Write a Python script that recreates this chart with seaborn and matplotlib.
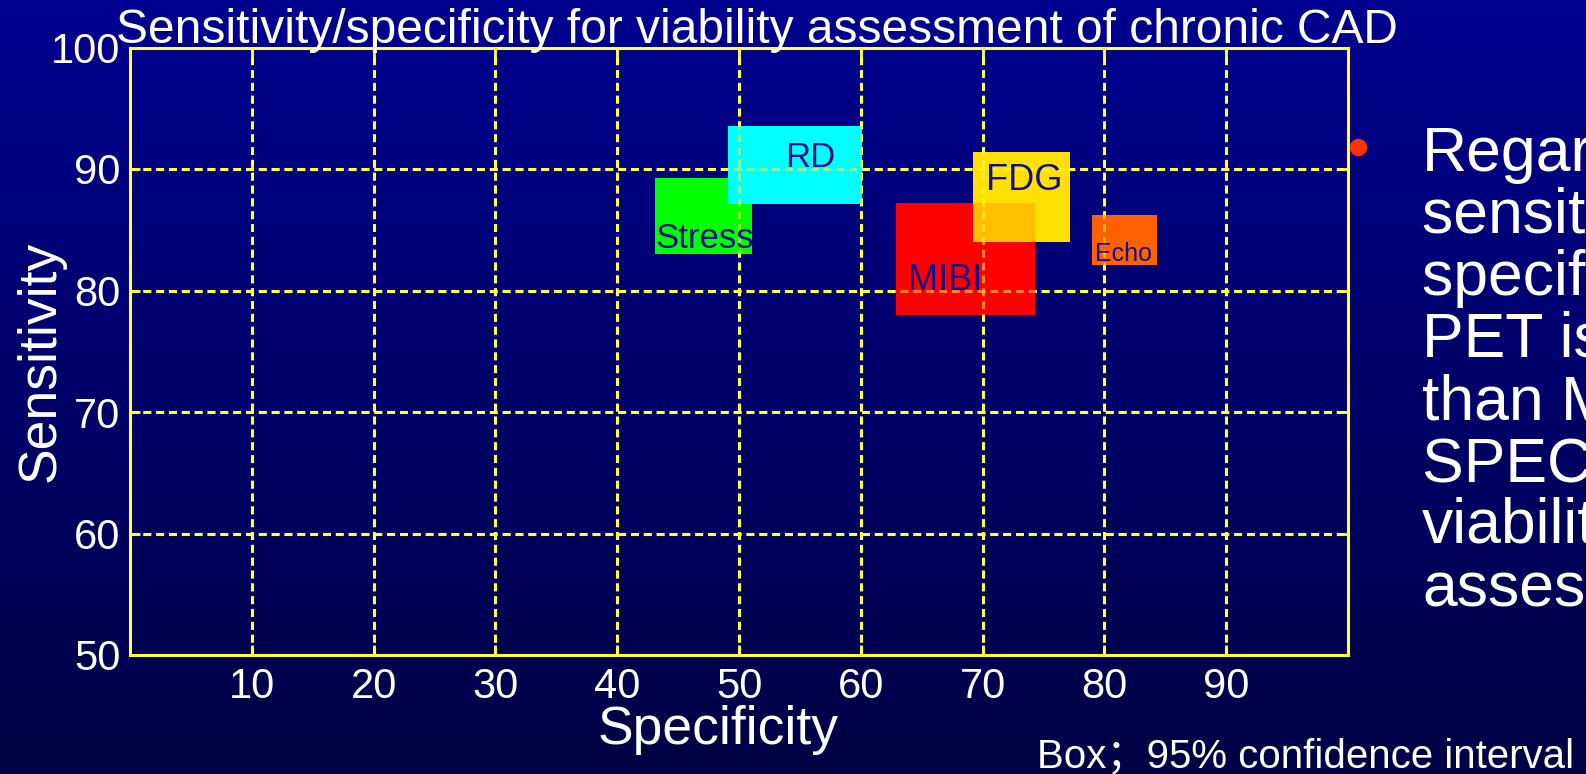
import numpy as np
import matplotlib
matplotlib.use("Agg")
import matplotlib.pyplot as plt
from matplotlib.lines import Line2D
import seaborn as sns

# ---------------- data ----------------
methods = ["Stress", "RD", "MIBI", "FDG", "Echo"]
spec_lo = [43.1, 49.1, 62.9, 69.2, 79.0]
spec_hi = [51.1, 60.1, 74.3, 77.2, 84.3]
sens_lo = [83.0, 87.1, 78.0, 84.0, 82.1]
sens_hi = [89.3, 93.5, 87.2, 91.4, 86.2]
box_colors = ["#00FF00", "#00FFFF", "#FF0000", "#FFE000", "#FF6000"]
label_x = [43.1, 53.8, 63.9, 70.3, 79.2]
label_y = [83.5, 90.2, 80.0, 88.3, 82.4]
label_size = [25, 25, 26, 26, 18]
overlap_color = "#FFC000"

xticks = [10, 20, 30, 40, 50, 60, 70, 80, 90]
yticks = [50, 60, 70, 80, 90, 100]
grid_y = [60, 70, 80, 90]

title = "Sensitivity/specificity for viability assessment of chronic CAD"
xlabel = "Specificity"
ylabel = "Sensitivity"
note = "Box\uff1b95% confidence interval"
bullet_lines = ["Regarding", "sensitivity and", "specificity, FDG", "PET is better",
                "than MIBI", "SPECT for", "viability", "assessment"]

# ---------------- style ----------------
sns.set_style("ticks")
plt.rcParams["font.family"] = ["Liberation Sans", "Noto Sans CJK SC", "DejaVu Sans"]

W, H = 1586, 774
fig = plt.figure(figsize=(W / 100, H / 100), dpi=100)

# gradient background
bg = fig.add_axes([0, 0, 1, 1], zorder=-10)
top = np.array([0, 0, 144]) / 255
bot = np.array([0, 0, 68]) / 255
t = np.linspace(0, 1, 256)[:, None]
grad = (top[None, :] * (1 - t) + bot[None, :] * t)[:, None, :]
bg.imshow(grad, aspect="auto", extent=[0, 1, 0, 1])
bg.set_axis_off()

ax = fig.add_axes([130 / W, 1 - 655 / H, (1348 - 130) / W, (655 - 47.5) / H])
ax.set_facecolor("none")
ax.set_xlim(0, 100)
ax.set_ylim(50, 100)

yellow = "#FFFF44"
dash = (0, (2.6, 1.6))
# grid under boxes
for gx in xticks:
    ax.axvline(gx, color=yellow, lw=2.2, ls=dash, zorder=1)
for gy in grid_y:
    ax.axhline(gy, color=yellow, lw=2.2, ls=dash, zorder=1)

# boxes
for i, m in enumerate(methods):
    ax.bar(spec_lo[i], sens_hi[i] - sens_lo[i], width=spec_hi[i] - spec_lo[i],
           bottom=sens_lo[i], align="edge", color=box_colors[i], lw=0, zorder=2 + i * 0.1)

# overlap MIBI / FDG
i, j = methods.index("MIBI"), methods.index("FDG")
ox0, ox1 = max(spec_lo[i], spec_lo[j]), min(spec_hi[i], spec_hi[j])
oy0, oy1 = max(sens_lo[i], sens_lo[j]), min(sens_hi[i], sens_hi[j])
ax.bar(ox0, oy1 - oy0, width=ox1 - ox0, bottom=oy0, align="edge",
       color=overlap_color, lw=0, zorder=3)

# faded grid over boxes
for gx in xticks:
    ax.axvline(gx, color=yellow, lw=2.2, ls=dash, alpha=0.5, zorder=4)
for gy in grid_y:
    ax.axhline(gy, color=yellow, lw=2.2, ls=dash, alpha=0.5, zorder=4)

# labels
for k, m in enumerate(methods):
    ax.text(label_x[k], label_y[k], m, fontsize=label_size[k], color="#10108E",
            ha="left", va="baseline", zorder=5)

ax.set_xticks(xticks)
ax.set_yticks(yticks)
ax.set_xticklabels([str(v) for v in xticks])
ax.set_yticklabels([str(v) for v in yticks])
ax.tick_params(axis="both", which="both", direction="in", length=7, width=2,
               color=yellow, labelcolor="white", labelsize=30,
               top=True, right=True)
ax.tick_params(axis="x", pad=9)
ax.tick_params(axis="y", pad=7)
for s in ax.spines.values():
    s.set_color(yellow)
    s.set_linewidth(2.2)
    s.set_zorder(6)

# texts
fig.text(757 / W, 1 - 43 / H, title, fontsize=34.5, color="white", ha="center", va="baseline")
fig.text(718 / W, 1 - 744 / H, xlabel, fontsize=38.5, color="white", ha="center", va="baseline")
fig.text(41 / W, 1 - 361 / H, ylabel, fontsize=38.5, color="white", ha="center", va="center",
         rotation=90)
fig.text(1037 / W, 1 - 767 / H, note, fontsize=29, color="white", ha="left", va="baseline")

fig.add_artist(Line2D([1358 / W], [1 - 147 / H], marker="o", ms=11.5, color="#FF3300",
                      lw=0, transform=fig.transFigure))
for k, line in enumerate(bullet_lines):
    fig.text(1422 / W, 1 - (171 + 62 * k) / H, line, fontsize=45, color="white",
             ha="left", va="baseline")

fig.savefig("out.png", dpi=100)
